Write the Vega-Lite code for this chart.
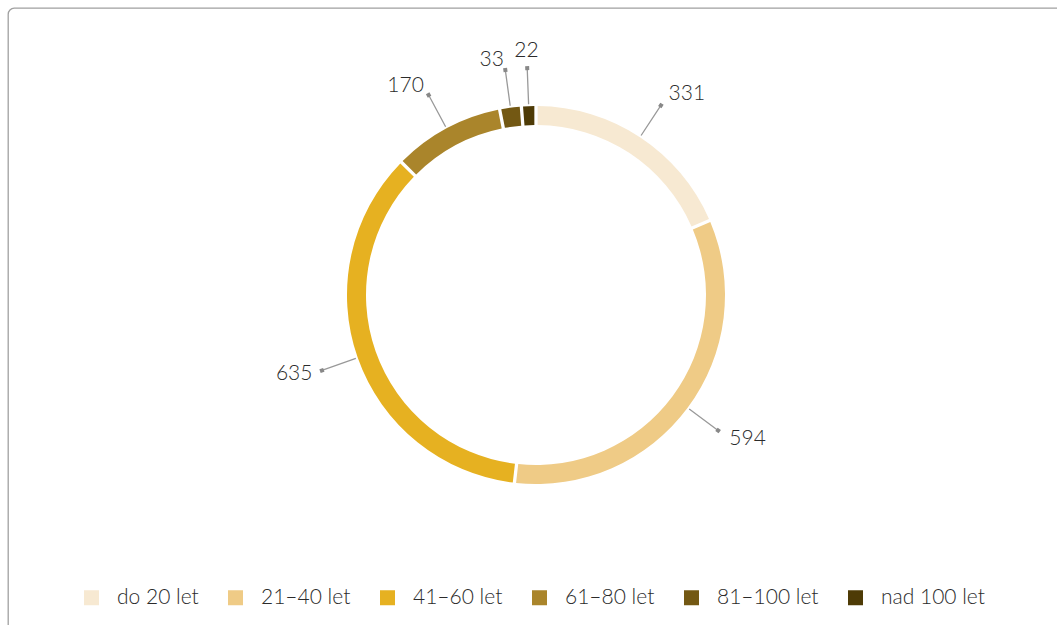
{
  "$schema": "https://vega.github.io/schema/vega-lite/v6.json",
  "width": 1056,
  "height": 640,
  "autosize": "none",
  "padding": {"left": 8, "top": 8, "right": 0, "bottom": 0},
  "background": "white",
  "view": {"stroke": "#a0a0a0", "strokeWidth": 1.3, "cornerRadius": 6, "fill": "white"},
  "config": {
    "view": {"stroke": "#a0a0a0", "strokeWidth": 1.3, "cornerRadius": 6},
    "font": "Lato",
    "text": {"font": "Lato"}
  },
  "data": {
    "values": [
      {"cat": "do 20 let", "v": 331, "i": 1},
      {"cat": "21–40 let", "v": 594, "i": 2},
      {"cat": "41–60 let", "v": 635, "i": 3},
      {"cat": "61–80 let", "v": 170, "i": 4},
      {"cat": "81–100 let", "v": 33, "i": 5},
      {"cat": "nad 100 let", "v": 22, "i": 6}
    ]
  },
  "layer": [
    {
      "mark": {"type": "arc", "radius": 189, "radius2": 170, "padAngle": 0.013, "yOffset": -33},
      "encoding": {
        "theta": {"field": "v", "type": "quantitative", "stack": true},
        "order": {"field": "i", "type": "quantitative"},
        "color": {
          "field": "cat",
          "type": "nominal",
          "scale": {
            "domain": ["do 20 let", "21–40 let", "41–60 let", "61–80 let", "81–100 let", "nad 100 let"],
            "range": ["#F7E9D2", "#EFCB86", "#E6B121", "#AA852B", "#735813", "#4E3B06"]
          },
          "legend": {
            "title": null,
            "orient": "none",
            "direction": "horizontal",
            "legendX": 73,
            "legendY": 579,
            "padding": 0,
            "symbolType": "square",
            "symbolSize": 225,
            "symbolStrokeWidth": 0,
            "labelFont": "Lato",
            "labelFontWeight": 300,
            "labelFontSize": 21,
            "labelColor": "#2b2b2b",
            "labelOffset": 15,
            "columnPadding": 26,
            "labelLimit": 300
          }
        }
      }
    },
    {
      "mark": {"type": "arc", "radius": 227, "radius2": 191, "padAngle": 3, "stroke": "#999999", "strokeWidth": 1.3, "fillOpacity": 0, "yOffset": -33},
      "encoding": {
        "theta": {"field": "v", "type": "quantitative", "stack": true},
        "order": {"field": "i", "type": "quantitative"},
        "detail": {"field": "cat", "type": "nominal"}
      }
    },
    {
      "mark": {"type": "arc", "radius": 229, "radius2": 225, "padAngle": 3, "stroke": "#888888", "strokeWidth": 4, "fillOpacity": 0, "yOffset": -33},
      "encoding": {
        "theta": {"field": "v", "type": "quantitative", "stack": true},
        "order": {"field": "i", "type": "quantitative"},
        "detail": {"field": "cat", "type": "nominal"}
      }
    },
    {
      "mark": {"type": "text", "radius": 241, "align": "left", "baseline": "middle", "fontSize": 21, "fontWeight": 300, "font": "Lato", "color": "#2b2b2b", "yOffset": -33},
      "encoding": {
        "theta": {"field": "v", "type": "quantitative", "stack": true},
        "order": {"field": "i", "type": "quantitative"},
        "detail": {"field": "cat", "type": "nominal"},
        "text": {"condition": {"test": "datum.i <= 2", "field": "v", "type": "quantitative"}, "value": ""}
      }
    },
    {
      "mark": {"type": "text", "radius": 237, "align": "right", "baseline": "middle", "fontSize": 21, "fontWeight": 300, "font": "Lato", "color": "#2b2b2b", "yOffset": -33},
      "encoding": {
        "theta": {"field": "v", "type": "quantitative", "stack": true},
        "order": {"field": "i", "type": "quantitative"},
        "detail": {"field": "cat", "type": "nominal"},
        "text": {"condition": {"test": "datum.i > 2 && datum.i < 6", "field": "v", "type": "quantitative"}, "value": ""}
      }
    },
    {
      "mark": {"type": "text", "radius": 244, "align": "center", "baseline": "middle", "fontSize": 21, "fontWeight": 300, "font": "Lato", "color": "#2b2b2b", "yOffset": -33},
      "encoding": {
        "theta": {"field": "v", "type": "quantitative", "stack": true},
        "order": {"field": "i", "type": "quantitative"},
        "detail": {"field": "cat", "type": "nominal"},
        "text": {"condition": {"test": "datum.i == 6", "field": "v", "type": "quantitative"}, "value": ""}
      }
    }
  ]
}
